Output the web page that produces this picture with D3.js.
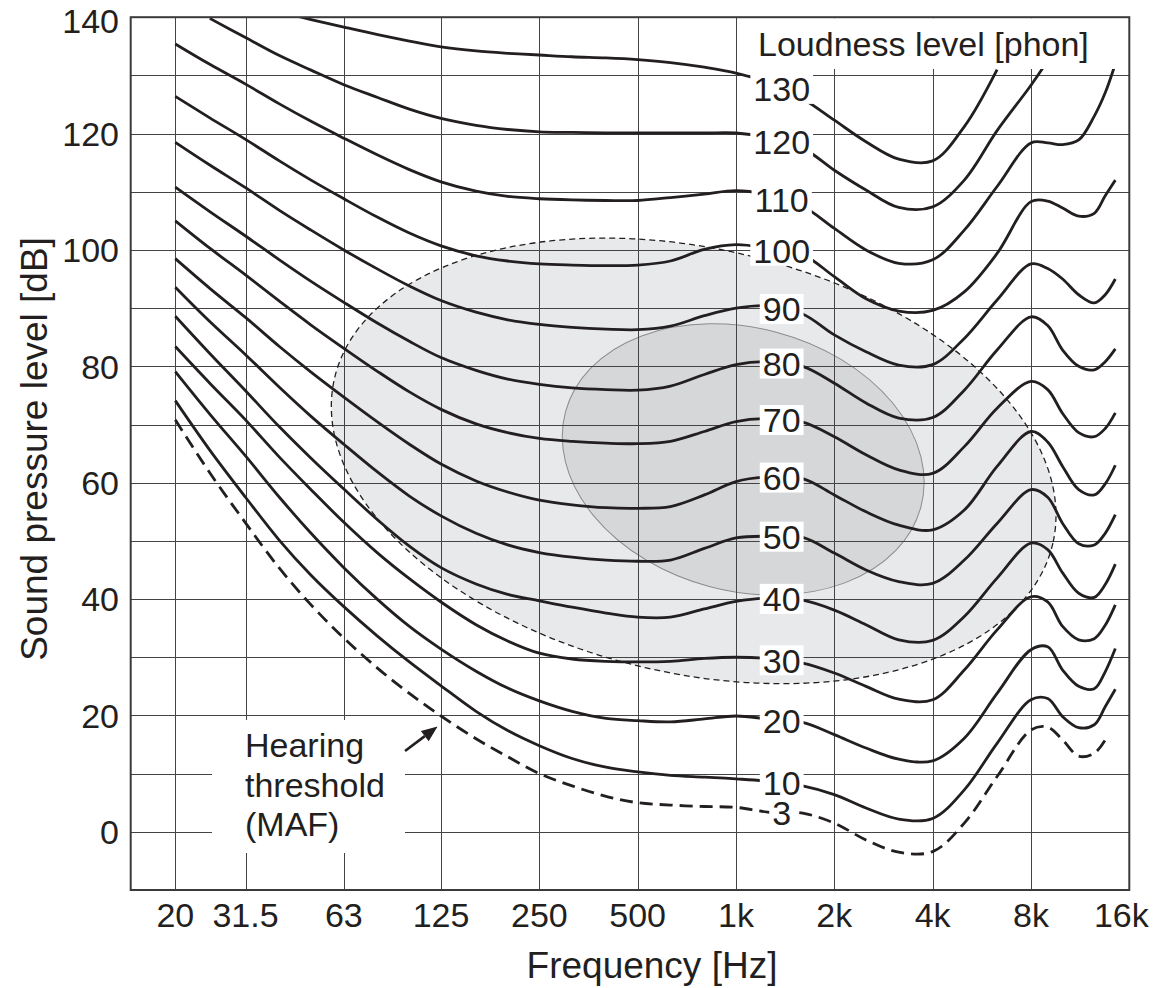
<!DOCTYPE html>
<html><head><meta charset="utf-8">
<script src="https://cdn.jsdelivr.net/npm/d3@7"></script>
<style>
body{margin:0;background:#fff}
svg{display:block}
text{font-family:"Liberation Sans",Arial,Helvetica,sans-serif;fill:#231f20}
</style>
</head><body>
<svg id="chart" width="1153" height="988"></svg>
<script>
// ---------------- data ----------------
const freqs = [20,25,31.5,40,50,63,80,100,125,160,200,250,315,400,500,630,800,1000,1250,1600,2000,2500,3150,4000,5000,6300,8000,9000,10000,11200,12500,13500,14500];

const phon130 = [null,null,null,140.9,139.6,138.3,137.0,135.9,134.9,134.2,133.8,133.5,133.2,133.0,132.7,132.2,131.4,130.4,128.8,126.0,122.3,118.6,115.6,115.3,121.2,131.0,null,null,null,null,null,null,null];
const phon120 = [null,139.8,136.5,133.4,130.9,128.4,126.2,124.2,122.6,121.4,120.7,120.3,120.2,120.1,120.1,120.1,120.1,120.1,119.3,117.5,113.7,110.3,107.3,107.4,112.0,120.5,128.3,132.5,null,null,null,null,null];
const phon110 = [135.4,131.9,128.5,125.1,122.1,119.2,116.3,113.8,111.7,110.1,109.2,108.8,108.6,108.5,108.5,109.0,109.6,110.2,109.5,107.5,103.7,100.0,97.7,98.3,103.4,110.9,118.4,118.4,118.1,118.9,123.0,127.0,132.0];
const phon100 = [126.4,122.7,119.0,115.3,112.0,108.8,105.6,102.9,100.7,99.0,98.1,97.6,97.4,97.3,97.4,98.1,100.1,100.9,100.3,99.2,95.4,91.6,89.5,89.6,92.8,99.4,108.3,108.4,107.2,105.8,106.3,109.3,112.0];
const phon90  = [118.5,114.6,110.7,106.8,103.4,100.0,96.7,93.8,91.3,89.3,88.0,87.2,86.7,86.4,86.3,86.9,88.7,90.0,90.4,89.0,85.4,82.5,80.2,80.3,84.8,91.4,97.6,96.8,95.0,92.3,90.9,92.3,95.0];
const phon80  = [110.8,106.6,102.4,98.3,94.6,91.0,87.4,84.3,81.5,79.3,77.8,76.9,76.3,76.0,75.9,76.6,78.6,80.3,80.8,80.0,77.1,73.7,71.1,71.2,75.9,82.8,88.5,87.0,82.8,80.0,79.4,80.8,83.0];
const phon70  = [105.0,100.3,95.7,91.2,87.1,83.1,79.1,75.6,72.6,70.1,68.6,67.6,67.1,66.8,66.7,67.1,68.8,70.5,71.0,70.4,67.9,64.8,62.2,61.6,66.2,72.8,77.4,76.0,71.9,68.6,67.9,69.3,72.0];
const phon60  = [98.5,93.4,88.4,83.4,79.0,74.7,70.4,66.6,63.2,60.3,58.4,57.0,56.2,55.7,55.6,55.9,57.9,60.2,61.0,60.7,57.9,55.0,52.7,51.9,55.3,62.8,68.8,67.0,62.8,58.8,57.9,59.8,63.0];
const phon50  = [93.6,87.7,82.0,76.4,71.4,66.6,61.8,57.7,54.3,51.3,49.3,48.0,47.2,46.7,46.5,46.7,48.7,50.5,50.8,50.6,47.9,45.0,43.0,42.7,46.7,53.0,58.8,57.5,53.0,49.5,49.3,51.3,54.5];
const phon40  = [88.6,82.2,75.8,69.6,64.2,58.9,53.6,49.1,45.4,42.6,40.8,39.7,38.6,37.6,36.9,36.9,38.3,39.6,40.2,39.8,38.1,35.6,33.0,32.9,37.0,43.6,49.6,48.5,44.5,41.0,40.3,42.5,46.0];
const phon30  = [83.4,77.1,70.8,64.4,58.8,53.2,47.9,43.5,39.5,35.6,32.8,30.7,29.7,29.3,29.2,29.3,29.8,30.0,29.8,29.0,27.3,25.0,22.8,22.7,27.8,34.7,40.4,39.5,35.3,33.0,33.2,35.5,39.0];
const phon20  = [79.1,71.8,64.6,57.5,51.3,45.4,39.9,35.3,31.4,27.6,24.7,22.5,20.7,19.5,19.1,18.9,19.4,19.9,19.4,18.8,16.7,14.4,12.5,12.2,16.1,23.8,31.3,31.8,27.8,25.0,24.6,27.5,31.5];
const phon10  = [74.1,65.6,57.5,50.1,44.1,38.7,33.6,29.2,25.1,20.7,17.4,14.8,12.6,11.1,10.3,9.7,9.4,9.1,8.7,7.9,6.4,4.1,2.2,2.3,7.2,15.2,22.7,22.9,19.8,17.9,18.4,21.5,24.5];
const thresholdMAF = [70.8,61.7,53.1,45.3,39.0,33.3,28.1,23.8,19.9,16.0,12.9,10.0,7.9,6.1,5.0,4.6,4.35,4.2,3.4,3.2,1.5,-1.4,-3.5,-3.4,1.5,9.5,17.5,18.0,15.8,13.0,13.5,15.8,null];

const curveLabels = ["130","120","110","100","90","80","70","60","50","40","30","20","10","3"];
const curveValues = [phon130,phon120,phon110,phon100,phon90,phon80,phon70,phon60,phon50,phon40,phon30,phon20,phon10,thresholdMAF];
const curveDashed = [false,false,false,false,false,false,false,false,false,false,false,false,false,true];

const xTicks = [20,31.5,63,125,250,500,1000,2000,4000,8000,16000];
const xTickLabels = ["20","31.5","63","125","250","500","1k","2k","4k","8k","16k"];
const yTicks = [0,20,40,60,80,100,120,140];
const yGrid = [-10,0,10,20,30,40,50,60,70,80,90,100,110,120,130,140];

// shaded regions: centre (Hz, dB), semi-axes (octaves, dB), tilt (deg)
const regionCenterHz = [742, 1052];
const regionCenterDb = [63.75, 64.0];
const regionRadiusOct = [3.748, 1.871];
const regionRadiusDb = [36.5, 22.6];
const regionTilt = [12.9, 15];

// ---------------- drawing ----------------
const svg = d3.select("#chart");
const x = d3.scaleLog().domain([20, 31.5, 16000]).range([175.3, 245.5, 1129.3]);
const y = d3.scaleLinear().domain([-10, 140]).range([890, 17.2]);
const L = 130.7, R = x(16000), T = y(140), B = y(-10);
const ink = "#231f20";
const crisp = v => Math.round(v) + 0.5;

svg.append("defs").append("clipPath").attr("id","plotclip")
  .append("rect").attr("x",L).attr("y",T).attr("width",R-L).attr("height",B-T);

// regions
const regFill = ["#e8e9eb","#d6d7d9"];
const regions = svg.append("g");
const ellipseGeom = i => {
  const cx = x(regionCenterHz[i]), cy = y(regionCenterDb[i]);
  const rx = x(regionCenterHz[i]*Math.pow(2, regionRadiusOct[i])) - cx;
  const ry = y(regionCenterDb[i] - regionRadiusDb[i]) - cy;
  return {cx, cy, rx, ry};
};
[0,1].forEach(i => {
  const g = ellipseGeom(i);
  regions.append("ellipse")
    .attr("cx",0).attr("cy",0).attr("rx",g.rx).attr("ry",g.ry)
    .attr("transform",`translate(${g.cx},${g.cy}) rotate(${regionTilt[i]})`)
    .attr("fill",regFill[i])
    .attr("stroke", i===1 ? "#8c8c8c" : "none").attr("stroke-width",1);
});

// grid
const grid = svg.append("g").attr("stroke","#444").attr("stroke-width",1);
xTicks.forEach(f => grid.append("line").attr("x1",crisp(x(f))).attr("x2",crisp(x(f))).attr("y1",T).attr("y2",B));
yGrid.forEach(v => grid.append("line").attr("x1",L).attr("x2",R).attr("y1",crisp(y(v))).attr("y2",crisp(y(v))));

// outer region dashed outline
{
  const g = ellipseGeom(0);
  svg.append("ellipse").attr("cx",0).attr("cy",0).attr("rx",g.rx).attr("ry",g.ry)
    .attr("transform",`translate(${g.cx},${g.cy}) rotate(${regionTilt[0]})`)
    .attr("fill","none").attr("stroke",ink).attr("stroke-width",1.3).attr("stroke-dasharray","6,4");
}

// curves
const line = d3.line()
  .defined(d => d[1] !== null)
  .x(d => x(d[0])).y(d => y(d[1]))
  .curve(d3.curveCatmullRom.alpha(0.5));
const curvesG = svg.append("g").attr("clip-path","url(#plotclip)");
curveValues.forEach((vals, i) => {
  const pts = freqs.map((f, j) => [f, vals[j]]);
  curvesG.append("path").attr("d", line(pts))
    .attr("fill","none").attr("stroke",ink)
    .attr("stroke-width", 2.8)
    .attr("stroke-dasharray", curveDashed[i] ? "13,7" : null);
});

// curve labels (placed on each curve at ~1.38 kHz)
const labelHz = 1380;
const i0 = freqs.indexOf(1250), i1 = freqs.indexOf(1600);
const tLab = Math.log(labelHz/1250)/Math.log(1600/1250);
const labG = svg.append("g");
curveValues.forEach((vals, i) => {
  const v = vals[i0] + (vals[i1]-vals[i0])*tLab;
  const gx = x(labelHz), gy = y(v);
  const t = labG.append("text").attr("x",gx).attr("y",gy).attr("dy","0.36em")
    .attr("text-anchor","middle").attr("font-size",34).text(curveLabels[i]);
  const bb = t.node().getBBox();
  labG.insert("rect", () => t.node())
    .attr("x",bb.x-3).attr("y",gy-15).attr("width",bb.width+6).attr("height",30)
    .attr("fill","#fff");
});

// legend title box
svg.append("rect").attr("x",750).attr("y",T+1).attr("width",R-750-1).attr("height",68-T).attr("fill","#fff");
svg.append("text").attr("x",758).attr("y",56).attr("font-size",34).text("Loudness level [phon]");

// hearing threshold annotation
svg.append("rect").attr("x",212).attr("y",720).attr("width",193).attr("height",133).attr("fill","#fff");
const mafText = svg.append("text").attr("font-size",34);
["Hearing","threshold","(MAF)"].forEach((s,k) => mafText.append("tspan").attr("x",245).attr("y",757+k*39.5).text(s));
{
  const x0 = x(97), y0 = y(13.9), x1 = x(122), y1 = y(18.1);
  const ang = Math.atan2(y1-y0, x1-x0);
  const hl = 16, hw = 6.5;
  const bx = x1 - hl*Math.cos(ang), by = y1 - hl*Math.sin(ang);
  svg.append("line").attr("x1",x0).attr("y1",y0).attr("x2",bx).attr("y2",by)
    .attr("stroke",ink).attr("stroke-width",2.6);
  svg.append("path").attr("fill",ink).attr("d",
    `M${x1},${y1}L${bx - hw*Math.sin(ang)},${by + hw*Math.cos(ang)}L${bx + hw*Math.sin(ang)},${by - hw*Math.cos(ang)}Z`);
}

// frame
svg.append("rect").attr("x",L).attr("y",T).attr("width",R-L).attr("height",B-T)
  .attr("fill","none").attr("stroke","#3a3a3a").attr("stroke-width",2);

// axes labels
const xl = svg.append("g");
xTicks.forEach((f,i) => xl.append("text")
  .attr("x", x(f) + (i === xTicks.length-1 ? -8 : 0)).attr("y",927)
  .attr("text-anchor","middle").attr("font-size",34).text(xTickLabels[i]));
const yl = svg.append("g");
yTicks.forEach(v => yl.append("text").attr("x",119).attr("y",Math.max(y(v), T + 4)).attr("dy","0.36em")
  .attr("text-anchor","end").attr("font-size",34).text(v));
svg.append("text").attr("x",652).attr("y",978).attr("text-anchor","middle").attr("font-size",37).text("Frequency [Hz]");
svg.append("text").attr("transform","translate(47,449) rotate(-90)").attr("text-anchor","middle")
  .attr("font-size",37).text("Sound pressure level [dB]");
</script>
</body></html>
